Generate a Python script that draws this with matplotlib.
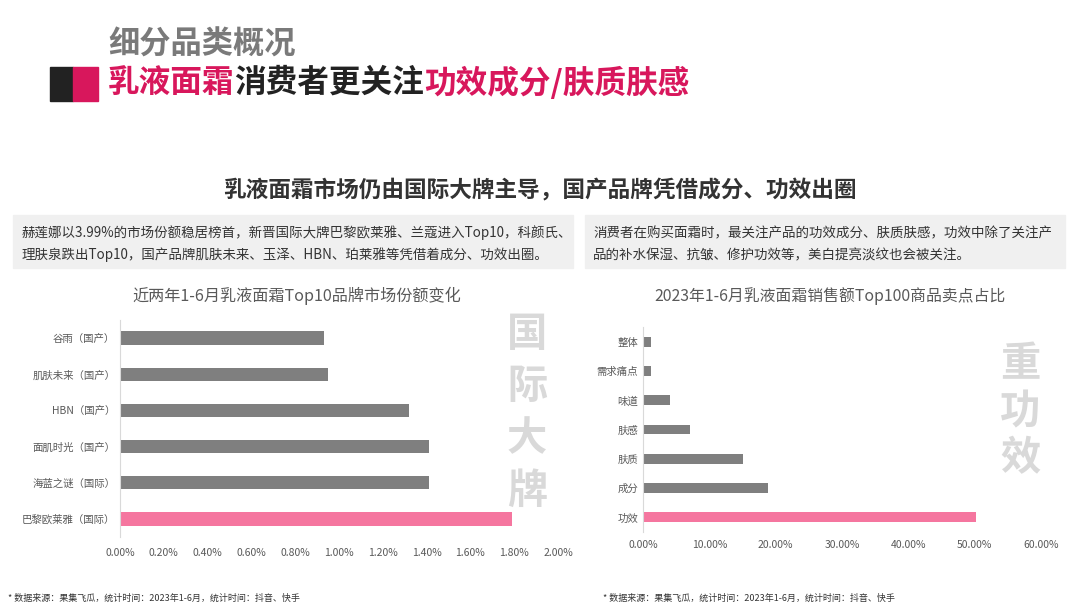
import matplotlib.pyplot as plt
from matplotlib.patches import Rectangle
from matplotlib.ticker import FuncFormatter

plt.rcParams['font.family'] = ['Noto Sans CJK SC', 'DejaVu Sans']

# 数据
brands = ['巴黎欧莱雅（国际）', '海蓝之谜（国际）', '面肌时光（国产）', 'HBN（国产）', '肌肤未来（国产）', '谷雨（国产）']
brand_share = [0.0179, 0.0141, 0.0141, 0.0132, 0.0095, 0.0093]

points = ['功效', '成分', '肤质', '肤感', '味道', '需求痛点', '整体']
point_share = [0.502, 0.188, 0.150, 0.071, 0.041, 0.012, 0.012]

GRAY = '#7f7f7f'
PINK = '#f5769f'
RED = '#d8175c'

fig = plt.figure(figsize=(10.8, 6.08), dpi=100)

# 标题
fig.text(108/1080, 1-45/608, '细分品类概况', fontsize=22.5, fontweight='bold', color='#7a7a7a', va='center')
fig.patches.append(Rectangle((50/1080, 1-101/608), 23/1080, 34/608, transform=fig.transFigure, color='#222222'))
fig.patches.append(Rectangle((73/1080, 1-101/608), 25/1080, 34/608, transform=fig.transFigure, color=RED))
x0 = 108/1080
t1 = fig.text(x0, 1-83/608, '乳液面霜', fontsize=22.8, fontweight='bold', color=RED, va='center')
fig.canvas.draw()
r = fig.canvas.get_renderer()
bb = t1.get_window_extent(r)
t2 = fig.text(bb.x1/1080, 1-83/608, '消费者更关注', fontsize=22.8, fontweight='bold', color='#222222', va='center')
bb = t2.get_window_extent(r)
fig.text(bb.x1/1080, 1-83/608, '功效成分/肤质肤感', fontsize=22.8, fontweight='bold', color=RED, va='center')

fig.text(540/1080, 1-191/608, '乳液面霜市场仍由国际大牌主导，国产品牌凭借成分、功效出圈',
         fontsize=16.3, fontweight='bold', color='#333333', ha='center', va='center')

# 灰色说明框
fig.patches.append(Rectangle((13/1080, 1-268/608), 560/1080, 53/608, transform=fig.transFigure, color='#f0f0f0'))
fig.patches.append(Rectangle((585/1080, 1-268/608), 480/1080, 53/608, transform=fig.transFigure, color='#f0f0f0'))
fig.text(22/1080, 1-233/608, '赫莲娜以3.99%的市场份额稳居榜首，新晋国际大牌巴黎欧莱雅、兰蔻进入Top10，科颜氏、',
         fontsize=9.7, color='#333333', va='center')
fig.text(22/1080, 1-255/608, '理肤泉跌出Top10，国产品牌肌肤未来、玉泽、HBN、珀莱雅等凭借着成分、功效出圈。',
         fontsize=9.7, color='#333333', va='center')
fig.text(593/1080, 1-233/608, '消费者在购买面霜时，最关注产品的功效成分、肤质肤感，功效中除了关注产',
         fontsize=9.7, color='#333333', va='center')
fig.text(593/1080, 1-255/608, '品的补水保湿、抗皱、修护功效等，美白提亮淡纹也会被关注。',
         fontsize=9.7, color='#333333', va='center')

# 图表标题
fig.text(297/1080, 1-296/608, '近两年1-6月乳液面霜Top10品牌市场份额变化', fontsize=11.6, color='#595959', ha='center', va='center')
fig.text(830/1080, 1-296/608, '2023年1-6月乳液面霜销售额Top100商品卖点占比', fontsize=11.4, color='#595959', ha='center', va='center')


def style(ax):
    for s in ['top', 'right', 'bottom']:
        ax.spines[s].set_visible(False)
    ax.spines['left'].set_color('#d9d9d9')
    ax.tick_params(length=0, labelsize=7.5, labelcolor='#595959')
    ax.tick_params(axis='x', pad=8)
    ax.set_facecolor('none')


# 左图
ax1 = fig.add_axes([120/1080, 1-537/608, 438/1080, 217/608])
c1 = [PINK] + [GRAY] * (len(brands) - 1)
ax1.barh(brands, brand_share, height=0.37, color=c1)
ax1.set_xlim(0, 0.02)
ax1.set_ylim(-0.5, len(brands) - 0.5)
ax1.set_xticks([i * 0.002 for i in range(11)])
ax1.xaxis.set_major_formatter(FuncFormatter(lambda v, p: f'{v*100:.2f}%'))
style(ax1)

# 右图
ax2 = fig.add_axes([643/1080, 1-532/608, 398/1080, 205/608])
c2 = [PINK] + [GRAY] * (len(points) - 1)
ax2.barh(points, point_share, height=0.34, color=c2)
ax2.set_xlim(0, 0.6)
ax2.set_ylim(-0.5, len(points) - 0.5)
ax2.set_xticks([i * 0.1 for i in range(7)])
ax2.xaxis.set_major_formatter(FuncFormatter(lambda v, p: f'{v*100:.2f}%'))
ax2.tick_params(axis='x', pad=6)
style(ax2)
ax2.tick_params(axis='x', pad=6)

# 竖排水印字
for i, ch in enumerate('国际大牌'):
    fig.text(527/1080, 1-(335 + i*52)/608, ch, fontsize=29, fontweight='bold', color='#d9d9d9', ha='center', va='center')
for i, ch in enumerate('重功效'):
    fig.text(1020/1080, 1-(365 + i*47)/608, ch, fontsize=29, fontweight='bold', color='#d9d9d9', ha='center', va='center')

# 数据来源
fig.text(8/1080, 1-598/608, '* 数据来源：果集飞瓜，统计时间：2023年1-6月，统计时间：抖音、快手', fontsize=6.5, color='#333333', va='center')
fig.text(603/1080, 1-598/608, '* 数据来源：果集飞瓜，统计时间：2023年1-6月，统计时间：抖音、快手', fontsize=6.5, color='#333333', va='center')

fig.savefig('out.png', dpi=100)
